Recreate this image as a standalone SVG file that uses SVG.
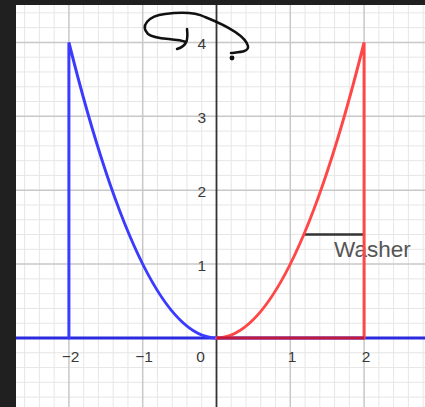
<svg xmlns="http://www.w3.org/2000/svg" width="425" height="407" viewBox="0 0 425 407">
<style>
.minor{stroke:#e6e6e6;stroke-width:1;fill:none}
.major{stroke:#c8c8c8;stroke-width:1.5;fill:none}
.lbl{font-family:"Liberation Sans",Arial,sans-serif;font-size:15.5px;fill:#3a3a3a}
.blue{stroke:#3b3bff;stroke-width:3;fill:none;stroke-linecap:round}
.red{stroke:#ff4747;stroke-width:3;fill:none;stroke-linecap:round}
</style>
<rect x="0" y="0" width="425" height="407" fill="#ffffff"/>
<g id="grid">
<path class="minor" d="M24.62 0V407M39.38 0V407M54.14 0V407M83.66 0V407M98.42 0V407M113.18 0V407M127.94 0V407M157.46 0V407M172.22 0V407M186.98 0V407M201.74 0V407M231.26 0V407M246.02 0V407M260.78 0V407M275.54 0V407M305.06 0V407M319.82 0V407M334.58 0V407M349.34 0V407M378.86 0V407M393.62 0V407M408.38 0V407M423.14 0V407"/>
<path class="minor" d="M0 397.12H425M0 382.34H425M0 367.56H425M0 352.78H425M0 323.22H425M0 308.44H425M0 293.66H425M0 278.88H425M0 249.32H425M0 234.54H425M0 219.76H425M0 204.98H425M0 175.42H425M0 160.64H425M0 145.86H425M0 131.08H425M0 101.52H425M0 86.74H425M0 71.96H425M0 57.18H425M0 27.62H425M0 12.84H425"/>
<path class="major" d="M68.9 0V407M142.7 0V407M290.3 0V407M364.1 0V407M0 264.1H425M0 190.2H425M0 116.3H425M0 42.4H425"/>
</g>
<g id="y-axis">
<line x1="216.5" y1="0" x2="216.5" y2="407" stroke="#333" stroke-width="1.8"/>
</g>
<g id="labels">
<text class="lbl" x="206" y="49" text-anchor="end">4</text>
<text class="lbl" x="206" y="123" text-anchor="end">3</text>
<text class="lbl" x="206" y="197" text-anchor="end">2</text>
<text class="lbl" x="206" y="271" text-anchor="end">1</text>
<text class="lbl" x="70.5" y="362" text-anchor="middle">−2</text>
<text class="lbl" x="144" y="362" text-anchor="middle">−1</text>
<text class="lbl" x="200.5" y="362" text-anchor="middle">0</text>
<text class="lbl" x="292" y="362" text-anchor="middle">1</text>
<text class="lbl" x="366" y="362" text-anchor="middle">2</text>
</g>
<g id="washer">
<text x="334" y="257" font-family="'Liberation Sans',Arial,sans-serif" font-size="22.5" fill="#555">Washer</text>
<line x1="303.5" y1="234.5" x2="364.5" y2="234.5" stroke="#333" stroke-width="2.5"/>
</g>
<g id="blue-region">
<line x1="0" y1="338" x2="425" y2="338" stroke="#2a2ae0" stroke-width="3"/>
<path class="blue" d="M68.9 338V42.4Q142.7 338 216.5 338"/>
</g>
<g id="red-region">
<path class="red" d="M216.5 338Q290.3 338 364.1 42.4V338"/>
<line x1="216.5" y1="338" x2="364.1" y2="338" stroke="#c0183e" stroke-width="3"/>
</g>
<g id="scribble" fill="none" stroke="#111" stroke-width="2.5" stroke-linecap="round" stroke-linejoin="round">
<path d="M186 42C175 38 155 40 148 34C140 26 148 16 165 14C180 12 195 12 205 17C225 25 245 35 248 46C249 52 240 52 231 53"/>
<path d="M187 29C188 38 188 46 177 49"/>
<circle cx="232" cy="58" r="1.2" fill="#111"/>
</g>
<g id="frame">
<rect x="0" y="0" width="425" height="5" fill="#202020"/>
<rect x="0" y="0" width="16" height="407" fill="#202020"/>
</g>
</svg>
